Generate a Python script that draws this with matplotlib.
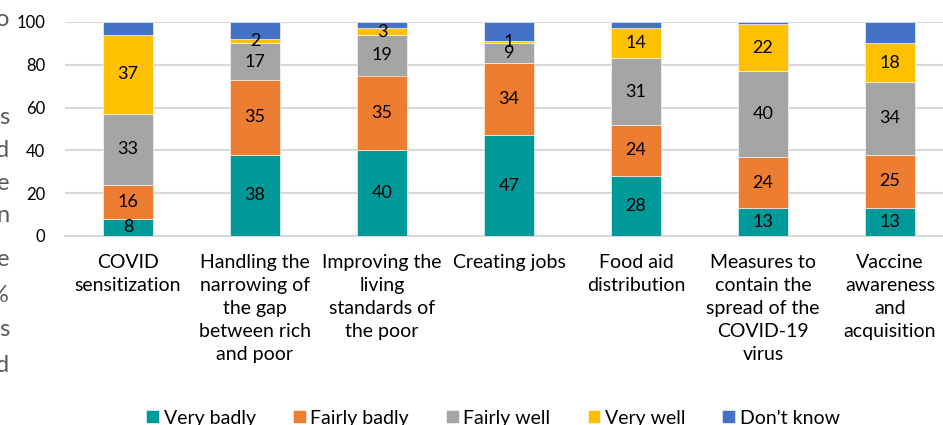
import matplotlib.pyplot as plt
import numpy as np

plt.rcParams['font.family'] = ['Lato', 'DejaVu Sans']

categories = ['COVID\nsensitization',
              'Handling the\nnarrowing of\nthe gap\nbetween rich\nand poor',
              'Improving the\nliving\nstandards of\nthe poor',
              'Creating jobs',
              'Food aid\ndistribution',
              'Measures to\ncontain the\nspread of the\nCOVID-19\nvirus',
              'Vaccine\nawareness\nand\nacquisition']

very_badly = [8, 38, 40, 47, 28, 13, 13]
fairly_badly = [16, 35, 35, 34, 24, 24, 25]
fairly_well = [33, 17, 19, 9, 31, 40, 34]
very_well = [37, 2, 3, 1, 14, 22, 18]
dont_know = [6, 8, 3, 9, 3, 1, 10]

series = [('Very badly', very_badly, '#009999'),
          ('Fairly badly', fairly_badly, '#ED7D31'),
          ('Fairly well', fairly_well, '#A5A5A5'),
          ('Very well', very_well, '#FFC000'),
          ("Don't know", dont_know, '#4472C4')]

# trailing letters of the side caption, cut off by the left edge
side_chars = ['o', 's', 'd', 'e', 'n', 'e', '%', 's', 'd']
side_y = [20, 118, 150, 183, 215, 260, 295, 330, 366]

fig = plt.figure(figsize=(9.43, 4.25), dpi=100)
ax = fig.add_axes([64.5 / 943, 1 - 236 / 425, 889 / 943, 214 / 425])

x = np.arange(len(categories))
bottom = np.zeros(len(categories))
for name, vals, color in series:
    vals = np.array(vals)
    ax.bar(x, vals, 0.4, bottom=bottom, color=color, label=name,
           edgecolor='white', linewidth=0.4, zorder=3)
    if name != "Don't know":
        for xi, b, v in zip(x, bottom, vals):
            ax.text(xi, b + v / 2, str(v), ha='center', va='center',
                    fontsize=13, color='black', zorder=4)
    bottom += vals

ax.set_xlim(-0.5, 6.5)
ax.set_ylim(0, 100)
ax.set_yticks([0, 20, 40, 60, 80, 100])
ax.yaxis.grid(True, color='#D9D9D9', linewidth=1.5, zorder=0)
for s in ['top', 'right', 'left']:
    ax.spines[s].set_visible(False)
ax.spines['bottom'].set_color('#D9D9D9')
ax.spines['bottom'].set_linewidth(1.5)
ax.tick_params(axis='both', length=0, colors='#000000')
ax.tick_params(axis='y', pad=14, labelsize=12)
ax.tick_params(axis='x', pad=13)
ax.set_xticks(x)
ax.set_xticklabels(categories, fontsize=14, linespacing=1.42)

handles, labels = ax.get_legend_handles_labels()
fig.legend(handles, labels, loc='lower center', bbox_to_anchor=(0.523, -0.045),
           ncol=5, frameon=False, fontsize=14, handlelength=0.65,
           handleheight=0.65, handletextpad=0.25, columnspacing=1.9)

for ch, yp in zip(side_chars, side_y):
    fig.text(9 / 943, 1 - yp / 425, ch, ha='right', va='center',
             fontsize=17, color='#595959')

fig.savefig('out.png', dpi=100)
